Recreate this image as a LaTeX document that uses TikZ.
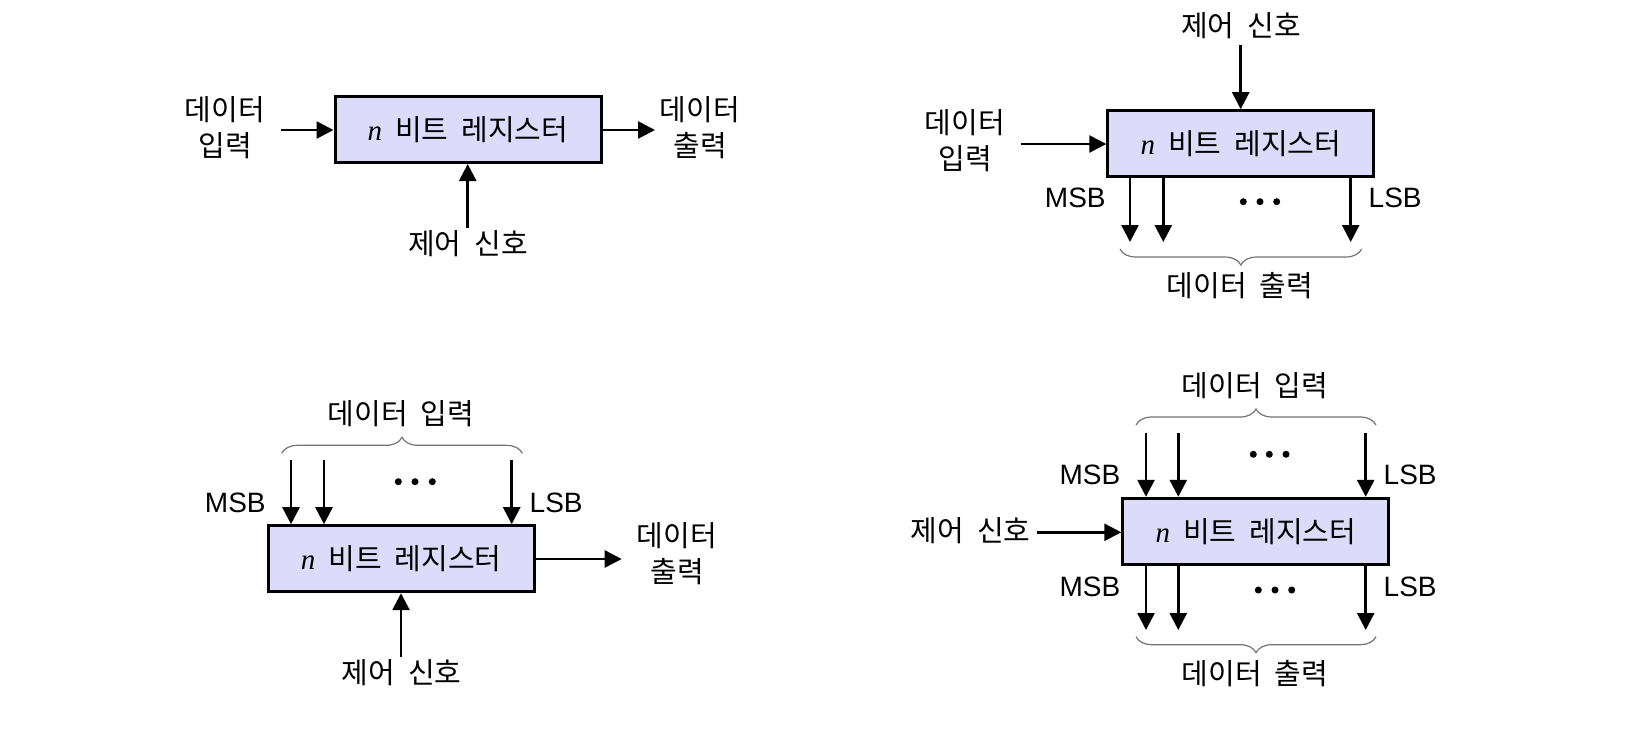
\documentclass[tikz,border=0pt]{standalone}
\usepackage{fontspec}
\setmainfont{Liberation Sans}
\newfontfamily\kr[WordSpace=2]{Noto Sans CJK KR}
\newfontfamily\tnr{Liberation Serif}
\usetikzlibrary{arrows.meta,decorations.pathreplacing}
\definecolor{boxfill}{RGB}{220,220,250}
\tikzset{
  reg/.style={draw=black, line width=1.5pt, fill=boxfill, inner sep=0pt,
    minimum width=133pt, minimum height=33pt,
    font=\kr\fontsize{14.5}{18}\selectfont},
  lbl/.style={inner sep=0pt, font=\kr\fontsize{14.5}{18}\selectfont, align=center},
  bit/.style={inner sep=0pt, font=\fontsize{14}{16}\selectfont},
  sig/.style={line width=1.3pt, -{Triangle[length=8.5pt,width=8.5pt]}},
  brc/.style={draw=black!55, line width=0.6pt, decorate, decoration={brace, amplitude=8pt}},
  brcm/.style={brc, decoration={brace, amplitude=8pt, mirror}},
  bdot/.style={circle, fill=black, inner sep=0pt, minimum size=3.5pt},
}
\newcommand{\regtext}{{\tnr\itshape n} 비트 레지스터}
\begin{document}
\begin{tikzpicture}[x=0.5pt,y=-0.5pt]
\useasboundingbox (0,0) rectangle (1648,750);

% ---------- Panel 1 (top left) ----------
\node[reg] (b1) at (468,129.5) {\regtext};
\node[lbl] (in1) at (225,128) {데이터\\입력};
\node[lbl] (out1) at (700,128) {데이터\\출력};
\node[lbl] (ctl1) at (468,244) {제어 신호};
\coordinate (i1) at (281,130);
\coordinate (o1) at (655,130);
\coordinate (c1) at (467.7,228);
\draw[sig] (i1) -- (i1 -| b1.west);
\draw[sig] (o1 -| b1.east) -- (o1);
\draw[sig] (c1) -- (c1 |- b1.south);

% ---------- Panel 2 (top right) ----------
\node[reg] (b2) at (1240.8,143.7) {\regtext};
\node[lbl] (ctl2) at (1241,26) {제어 신호};
\node[lbl] (in2) at (965,141) {데이터\\입력};
\coordinate (c2) at (1240.7,45);
\coordinate (i2) at (1020.7,144);
\draw[sig] (c2) -- (c2 |- b2.north);
\draw[sig] (i2) -- (i2 -| b2.west);
\coordinate (o2a) at (1130,242);
\coordinate (o2b) at (1163.3,242);
\coordinate (o2c) at (1350.7,242);
\draw[sig] (o2a |- b2.south) -- (o2a);
\draw[sig] (o2b |- b2.south) -- (o2b);
\draw[sig] (o2c |- b2.south) -- (o2c);
\node[bit, anchor=east] (msb2) at (1106,198.3) {MSB};
\node[bit, anchor=west] (lsb2) at (1368.3,198.3) {LSB};
\node[bdot] (d2a) at (1243.3,201.7) {};
\node[bdot] (d2b) at (1260,201.7) {};
\node[bdot] (d2c) at (1276.7,201.7) {};
\draw[brcm] (1120,249) -- (1361.7,249);
\node[lbl] (out2) at (1240,286) {데이터 출력};

% ---------- Panel 3 (bottom left) ----------
\node[reg] (b3) at (401.2,558.7) {\regtext};
\node[lbl] (in3) at (401,414) {데이터 입력};
\draw[brc] (281.7,453.3) -- (522.3,453.3);
\coordinate (i3a) at (291,460);
\coordinate (i3b) at (324,460);
\coordinate (i3c) at (511.7,460);
\draw[sig] (i3a) -- (i3a |- b3.north);
\draw[sig] (i3b) -- (i3b |- b3.north);
\draw[sig] (i3c) -- (i3c |- b3.north);
\node[bit, anchor=east] (msb3) at (266,503.3) {MSB};
\node[bit, anchor=west] (lsb3) at (529.3,503.3) {LSB};
\node[bdot] (d3a) at (398.3,481.7) {};
\node[bdot] (d3b) at (415,481.7) {};
\node[bdot] (d3c) at (432.3,481.7) {};
\coordinate (o3) at (621.7,559);
\draw[sig] (o3 -| b3.east) -- (o3);
\node[lbl] (out3) at (677,554) {데이터\\출력};
\coordinate (c3) at (401,656.7);
\draw[sig] (c3) -- (c3 |- b3.south);
\node[lbl] (ctl3) at (401.7,672.5) {제어 신호};

% ---------- Panel 4 (bottom right) ----------
\node[reg] (b4) at (1255.8,531.3) {\regtext};
\node[lbl] (in4) at (1255,386) {데이터 입력};
\draw[brc] (1136,425) -- (1376,425);
\coordinate (i4a) at (1146,432.7);
\coordinate (i4b) at (1178.3,432.7);
\coordinate (i4c) at (1365.7,432.7);
\draw[sig] (i4a) -- (i4a |- b4.north);
\draw[sig] (i4b) -- (i4b |- b4.north);
\draw[sig] (i4c) -- (i4c |- b4.north);
\node[bit, anchor=east] (msb4a) at (1120.7,475) {MSB};
\node[bit, anchor=west] (lsb4a) at (1383.3,475) {LSB};
\node[bdot] (d4a) at (1253.3,454.3) {};
\node[bdot] (d4b) at (1269.3,454.3) {};
\node[bdot] (d4c) at (1286,454.3) {};
\node[lbl] (ctl4) at (970.5,530.5) {제어 신호};
\coordinate (c4) at (1036.7,532.3);
\draw[sig] (c4) -- (c4 -| b4.west);
\coordinate (o4a) at (1146,630);
\coordinate (o4b) at (1178.3,630);
\coordinate (o4c) at (1365.7,630);
\draw[sig] (o4a |- b4.south) -- (o4a);
\draw[sig] (o4b |- b4.south) -- (o4b);
\draw[sig] (o4c |- b4.south) -- (o4c);
\node[bit, anchor=east] (msb4b) at (1120.7,586.7) {MSB};
\node[bit, anchor=west] (lsb4b) at (1383.3,586.7) {LSB};
\node[bdot] (d4d) at (1258.3,590) {};
\node[bdot] (d4e) at (1275,590) {};
\node[bdot] (d4f) at (1291.7,590) {};
\draw[brcm] (1136,636.7) -- (1376,636.7);
\node[lbl] (out4) at (1255,673.3) {데이터 출력};
\end{tikzpicture}
\end{document}
